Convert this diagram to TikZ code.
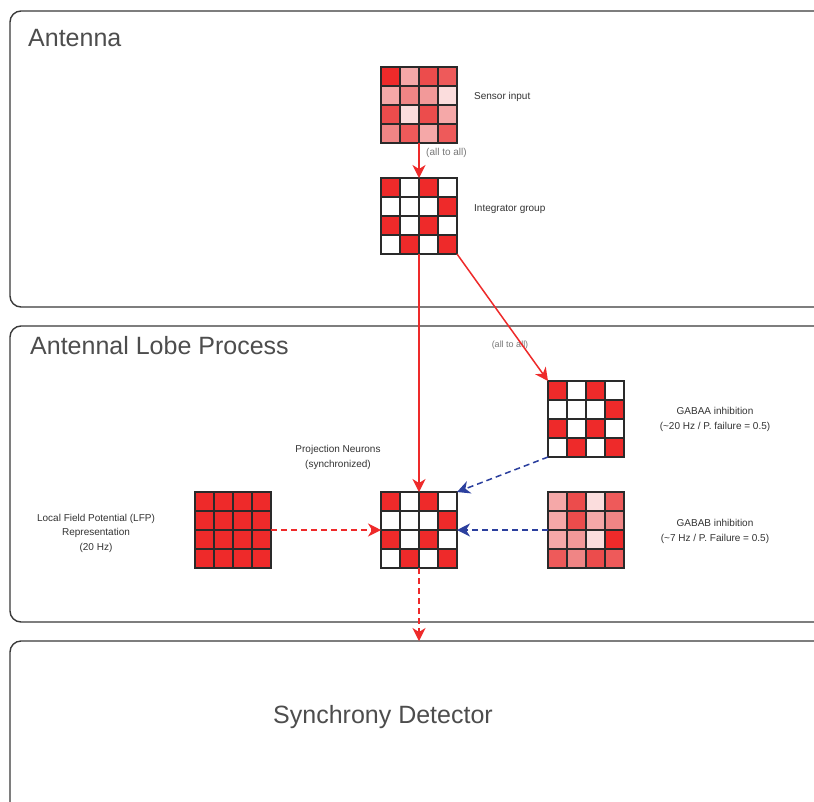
\documentclass[tikz,border=0pt]{standalone}
\usepackage{fontspec}
\setmainfont{Liberation Sans}
\usetikzlibrary{arrows.meta,calc}
\definecolor{R}{HTML}{EE2A2A}
\definecolor{M1}{HTML}{EC4C4C}
\definecolor{M2}{HTML}{EE5A5A}
\definecolor{P1}{HTML}{F08585}
\definecolor{P2}{HTML}{F5A8A8}
\definecolor{P3}{HTML}{F29999}
\definecolor{VL}{HTML}{FBDDDD}
\definecolor{W}{HTML}{FFFFFF}
\definecolor{gridcol}{HTML}{2A2A2A}
\definecolor{panelcol}{HTML}{3A3A3A}
\definecolor{titlecol}{HTML}{4D4D4D}
\definecolor{labelcol}{HTML}{333333}
\definecolor{notecol}{HTML}{777777}
\definecolor{arrred}{HTML}{EE2A2A}
\definecolor{arrblue}{HTML}{2B3F9E}
\newcommand{\cellgrid}[3]{%
  \node[gridbox] (#1) at #2 {};
  \foreach \cc [count=\ii from 0] in {#3} {
    \pgfmathtruncatemacro\gcol{mod(\ii,4)}
    \pgfmathtruncatemacro\grow{int(\ii/4)}
    \fill[\cc] ($(#1.north west)+(\gcol*19,\grow*19)$) rectangle ++(19,19);
  }
  \foreach \k in {0,...,4} {
    \draw[gridline] ($(#1.north west)+(\k*19,0)$) -- ++(0,76);
    \draw[gridline] ($(#1.north west)+(0,\k*19)$) -- ++(76,0);
  }
}
\begin{document}
\begin{tikzpicture}[x=1pt,y=-1pt,
  gridbox/.style={minimum size=76pt,inner sep=0pt,outer sep=0pt},
  gridline/.style={draw=gridcol,line width=2pt,line cap=rect},
  panel/.style={draw=panelcol,line width=1.4pt,rounded corners=11pt},
  title/.style={text=titlecol,font=\fontsize{25}{30}\selectfont,inner sep=0pt},
  lbl/.style={text=labelcol,font=\fontsize{10}{15}\selectfont,inner sep=0pt,align=center},
  note/.style={text=notecol,font=\fontsize{10}{12}\selectfont,inner sep=0pt},
  redarr/.style={draw=arrred,line width=1.5pt,-{Stealth[length=13pt,width=13pt,inset=4pt]}},
  bluearr/.style={draw=arrblue,line width=1.5pt,dash pattern=on 6pt off 4pt,-{Stealth[length=13pt,width=13pt,inset=4pt]}},
  reddash/.style={redarr,dash pattern=on 6pt off 4pt}]
\path[use as bounding box,clip] (0,0) rectangle (814,801);
\fill[white] (0,0) rectangle (814,801);
% panels
\draw[panel] (10,11) rectangle (840,307);
\draw[panel] (10,326) rectangle (840,622);
\draw[panel] (10,641) rectangle (840,830);
\node[title,anchor=west] (t1) at (28,38) {Antenna};
\node[title,anchor=west] (t2) at (30,346) {Antennal Lobe Process};
\node[title] (t3) at (383,717) {Synchrony Detector};
\coordinate (synchtop) at (419,641);
% grids
\cellgrid{sens}{(419,105)}{R,P2,M1,M2, P2,P1,P3,VL, M1,VL,M1,P2, P1,M2,P2,M2}
\cellgrid{integ}{(419,216)}{R,W,R,W, W,W,W,R, R,W,R,W, W,R,W,R}
\cellgrid{gabaa}{(586,419)}{R,W,R,W, W,W,W,R, R,W,R,W, W,R,W,R}
\cellgrid{pn}{(419,530)}{R,W,R,W, W,W,W,R, R,W,R,W, W,R,W,R}
\cellgrid{lfp}{(233,530)}{R,R,R,R, R,R,R,R, R,R,R,R, R,R,R,R}
\cellgrid{gabab}{(586,530)}{P2,M1,VL,M2, P2,M1,P2,P1, P2,P3,VL,R, M2,P1,M1,M2}
% labels
\node[lbl,anchor=west] (lsens) at (474,97) {Sensor input};
\node[note,anchor=west] (n1) at (426,153) {(all to all)};
\node[lbl,anchor=west] (linteg) at (474,209) {Integrator group};
\node[note,font=\fontsize{9}{11}\selectfont] (n2) at (510,345) {(all to all)};
\node[lbl] (lgabaa) at (715,419) {GABAA inhibition\\(\textasciitilde20 Hz / P. failure = 0.5)};
\node[lbl] (lgabab) at (715,531) {GABAB inhibition\\(\textasciitilde7 Hz / P. Failure = 0.5)};
\node[lbl] (lpn) at (338,457) {Projection Neurons\\(synchronized)};
\node[lbl,font=\fontsize{10}{14.5}\selectfont] (llfp) at (96,533) {Local Field Potential (LFP)\\Representation\\(20 Hz)};
% connectors
\draw[redarr] (sens.south) -- (integ.north);
\draw[redarr] (integ.south) -- (pn.north);
\draw[redarr] (integ.south east) -- (gabaa.north west);
\draw[bluearr] (gabaa.south west) -- (pn.north east);
\draw[bluearr] (gabab.west) -- (pn.east);
\draw[reddash] (lfp.east) -- (pn.west);
\draw[reddash] (pn.south) -- (synchtop);
\end{tikzpicture}
\end{document}
